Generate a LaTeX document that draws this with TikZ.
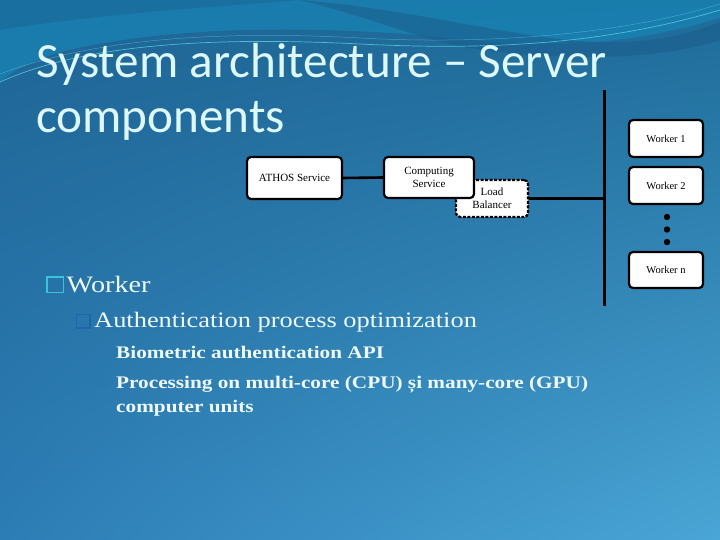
\documentclass[tikz,border=0pt]{standalone}
\usepackage{fontspec}
\usetikzlibrary{shadings}
\setmainfont{Liberation Serif}
\newfontfamily\titlefont{Carlito}
\newfontfamily\bodyfont[FakeStretch=1.2]{Liberation Serif}
\newfontfamily\diagfont{Liberation Serif}
\definecolor{bgTL}{HTML}{1E6494}
\definecolor{bgTR}{HTML}{1D6A98}
\definecolor{bgBL}{HTML}{2C7DB5}
\definecolor{bgBR}{HTML}{4AA6D6}
\definecolor{teal}{HTML}{1884B4}
\definecolor{swoosh}{HTML}{1B5C8C}
\definecolor{glow}{HTML}{5FE0EE}
\definecolor{titlecol}{HTML}{DDF8FB}
\definecolor{bodycol}{HTML}{EEF8FA}
\definecolor{bulletA}{HTML}{36C5DC}
\definecolor{bulletB}{HTML}{1F63B4}
\definecolor{bulletC}{HTML}{2A78B0}
\tikzset{
  box/.style={draw=black, fill=white, line width=2.2pt, rounded corners=4pt,
    inner sep=0pt, align=center, font=\diagfont\fontsize{11}{13}\selectfont},
  dashbox/.style={box, dashed, dash pattern=on 3pt off 1.5pt},
  link/.style={draw=black, line width=2.6pt},
  bodytext/.style={anchor=base west, inner sep=0pt, text=bodycol},
  workerbox/.style={box, minimum width=74pt, font=\diagfont\fontsize{10.5}{12}\selectfont},
}
\begin{document}
\begin{tikzpicture}[x=1pt, y=-1pt]
\useasboundingbox (0,0) rectangle (720,540);
% background
\shade[upper left=bgTL, upper right=bgTR, lower left=bgBL, lower right=bgBR]
  (0,0) rectangle (720,540);
% top wave decoration
\fill[teal, opacity=0.75] (0,0) -- (720,0) -- (720,18)
  .. controls (640,42) and (560,50) .. (470,40)
  .. controls (380,30) and (200,18) .. (60,52)
  .. controls (30,62) and (10,72) .. (0,82) -- cycle;
\fill[swoosh, opacity=0.55] (300,0) .. controls (420,10) and (520,40) .. (600,42)
  .. controls (660,44) and (700,30) .. (720,22) -- (720,40)
  .. controls (660,60) and (560,62) .. (470,48)
  .. controls (420,40) and (380,20) .. (300,0) -- cycle;
\fill[swoosh, opacity=0.35] (0,0) -- (300,0) .. controls (200,8) and (100,14) .. (0,30) -- cycle;
\draw[glow, opacity=0.7, line width=0.7pt] (0,82) .. controls (80,46) and (200,36) .. (360,44)
  .. controls (480,50) and (600,46) .. (720,10);
\draw[glow, opacity=0.45, line width=0.5pt] (0,74) .. controls (90,40) and (210,30) .. (360,38)
  .. controls (470,44) and (610,38) .. (720,4);
% title
\node[anchor=base west, inner sep=0pt, text=titlecol, font=\titlefont\fontsize{49.2}{55}\selectfont]
  (t1) at (36,78) {System architecture – Server};
\node[anchor=base west, inner sep=0pt, text=titlecol, font=\titlefont\fontsize{49.2}{55}\selectfont]
  (t2) at (36,133) {components};
% diagram
\node[dashbox, minimum width=72pt, minimum height=37pt] (lb) at (492,198.5) {Load\\Balancer};
\node[box, minimum width=95pt, minimum height=42pt] (athos) at (294.5,178) {ATHOS Service};
\node[box, minimum width=90pt, minimum height=41pt] (comp) at (429,177.5) {Computing\\Service};
\coordinate (bartop) at (604,90);
\coordinate (barbot) at (604,306);
\coordinate (barjoin) at (604,198.5);
\draw[link, line width=3pt] (bartop) -- (barbot);
\draw[link] (athos.east) -- (comp.west);
\draw[link] (lb.east) -- (barjoin);
\node[workerbox, minimum height=37pt] (w1) at (666,138.5) {Worker 1};
\node[workerbox, minimum height=37pt] (w2) at (666,185.5) {Worker 2};
\node[workerbox, minimum height=36pt] (wn) at (666,270) {Worker n};
\fill[black] (667,217) circle (3.2pt) (667,229.5) circle (3.2pt) (667,242) circle (3.2pt);
% bullets
\draw[bulletA, line width=1.6pt] (47,277) rectangle (63.5,292.5);
\draw[bulletB, line width=1.6pt] (76.5,314.5) rectangle (90,328);
\fill[bulletC, opacity=0.8] (102,353) circle (5pt);
\fill[bulletC, opacity=0.6] (102,383) circle (5pt);
% body text
\node[bodytext, font=\bodyfont\fontsize{23.5}{28}\selectfont] (b1) at (66.5,292.5) {Worker};
\node[bodytext, font=\bodyfont\fontsize{22}{26}\selectfont] (b2) at (94,327.5) {Authentication process optimization};
\node[bodytext, font=\bodyfont\bfseries\fontsize{17.7}{22}\selectfont] (b3) at (116,358) {Biometric authentication API};
\node[bodytext, font=\bodyfont\bfseries\fontsize{17.7}{22}\selectfont] (b4) at (116,388) {Processing on multi-core (CPU) și many-core (GPU)};
\node[bodytext, font=\bodyfont\bfseries\fontsize{17.7}{22}\selectfont] (b5) at (116,412) {computer units};
\end{tikzpicture}
\end{document}
